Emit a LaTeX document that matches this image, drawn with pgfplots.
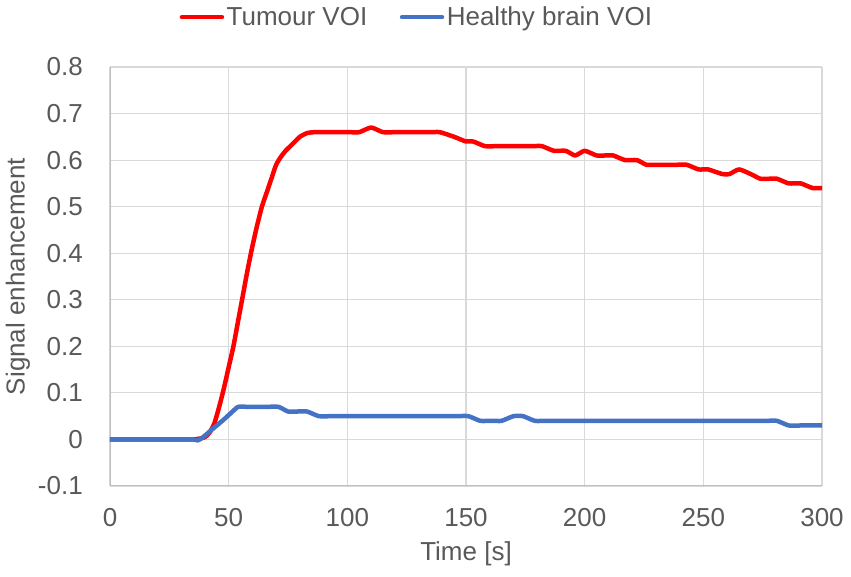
\documentclass[border=0pt]{standalone}
\usepackage{fontspec}
\setmainfont{Liberation Sans}
\usepackage{pgfplots}
\pgfplotsset{compat=1.18}
\definecolor{txt}{HTML}{595959}
\definecolor{gridc}{HTML}{D9D9D9}
\definecolor{axc}{HTML}{BFBFBF}
\definecolor{tred}{HTML}{FF0000}
\definecolor{hblue}{HTML}{4472C4}
\newcommand\fs{\fontsize{26}{31}\selectfont}
\begin{document}
\begin{tikzpicture}
\begin{axis}[
  at={(0pt,0pt)}, anchor=south west,
  scale only axis, width=712pt, height=419pt,
  xmin=0, xmax=300, ymin=-0.1, ymax=0.8,
  xtick={0,50,100,150,200,250,300},
  xticklabels={0,50,100,150,200,250,300},
  ytick={-0.1,0,0.1,0.2,0.3,0.4,0.5,0.6,0.7,0.8},
  yticklabels={-0.1,0,0.1,0.2,0.3,0.4,0.5,0.6,0.7,0.8},
  major tick length=0pt,
  grid=major,
  major grid style={gridc, line width=1.2pt},
  axis line style={draw=none},
  tick label style={font=\fs, text=txt, inner sep=0pt},
  xticklabel shift=22pt,
  yticklabel shift=27pt,
  every axis x label/.style={at={(axis description cs:0.5,-0.162)}, anchor=center, font=\fs, text=txt},
  every axis y label/.style={at={(axis description cs:-0.1292,0.5)}, rotate=90, anchor=center, font=\fs, text=txt},
  xlabel={Time [s]},
  ylabel={Signal enhancement},
  legend columns=2,
  legend style={at={(axis description cs:0.0976,1.119)}, anchor=west, draw=none, fill=none, inner sep=0pt,
    font=\fs, text=txt, nodes={inner xsep=2.5pt, inner ysep=0pt},
    /tikz/every even column/.append style={column sep=30pt}},
  legend image code/.code={\draw[#1] (0pt,0pt) -- (40pt,0pt);},
  /pgf/number format/assume math mode=true,
]
\draw[axc, line width=1.5pt] (axis cs:0,-0.1) -- (axis cs:0,0.8);
\draw[axc, line width=1.5pt] (axis cs:0,-0.1) -- (axis cs:300,-0.1);
\addplot[tred, line width=4.5pt, line join=round, line cap=round, smooth, tension=0.35] coordinates {
(0,0) (5,0) (10,0) (15,0) (20,0) (25,0) (30,0) (35,0) (38,0.002) (40,0.005)
(42,0.015) (44,0.035) (46,0.07) (48,0.11)
(50,0.155) (52,0.2) (54,0.255) (56,0.31) (58,0.365) (60,0.415) (62,0.46)
(64,0.50) (66,0.53) (68,0.56) (70,0.59) (72,0.607) (74,0.62) (77,0.635)
(80,0.65) (83,0.658) (86,0.66) (91,0.66) (96,0.66) (101,0.66) (105,0.66)
(110,0.67) (115,0.66) (120,0.66) (125,0.66) (130,0.66) (135,0.66) (139,0.66)
(145,0.65) (150,0.64) (153,0.64) (158,0.63) (163,0.63) (168,0.63) (173,0.63)
(178,0.63) (182,0.63) (187,0.62) (192,0.62)
(196,0.61) (200,0.62) (205,0.61) (209,0.61) (212,0.61) (217,0.60) (222,0.60) (226,0.59)
(230,0.59) (235,0.59) (239,0.59)
(243,0.59) (248,0.58) (252,0.58) (258,0.57) (261,0.57) (265,0.58) (270,0.57)
(274,0.56) (278,0.56) (281,0.56) (286,0.55) (291,0.55) (296,0.54) (300,0.54)
};
\addlegendentry{Tumour VOI}
\addplot[hblue, line width=4.5pt, line join=round, line cap=round, smooth, tension=0.35] coordinates {
(0,0) (5,0) (10,0) (15,0) (20,0) (25,0) (30,0) (35,0) (37,-0.002) (39,0.004)
(42,0.017) (45,0.03) (48,0.043) (51,0.057) (54,0.07) (58,0.07) (62,0.07)
(66,0.07) (71,0.07) (75,0.06) (79,0.06) (83,0.06)
(88,0.05) (93,0.05) (98,0.05) (103,0.05) (108,0.05) (113,0.05) (118,0.05)
(123,0.05) (128,0.05) (133,0.05) (138,0.05) (142,0.05) (146,0.05)
(151,0.05) (156,0.04) (161,0.04) (165,0.04) (170,0.05) (174,0.05) (179,0.04)
(184,0.04) (189,0.04) (194,0.04) (199,0.04) (204,0.04) (209,0.04) (214,0.04)
(219,0.04) (224,0.04) (229,0.04) (234,0.04) (239,0.04) (244,0.04) (249,0.04)
(254,0.04) (259,0.04) (264,0.04) (269,0.04) (273,0.04) (277,0.04)
(281,0.04) (286,0.03) (291,0.03) (296,0.03) (300,0.03)
};
\addlegendentry{Healthy brain VOI}
\end{axis}
\pgfresetboundingbox
\path[use as bounding box] (-110pt,-91pt) rectangle (741pt,486pt);
\end{tikzpicture}
\end{document}
